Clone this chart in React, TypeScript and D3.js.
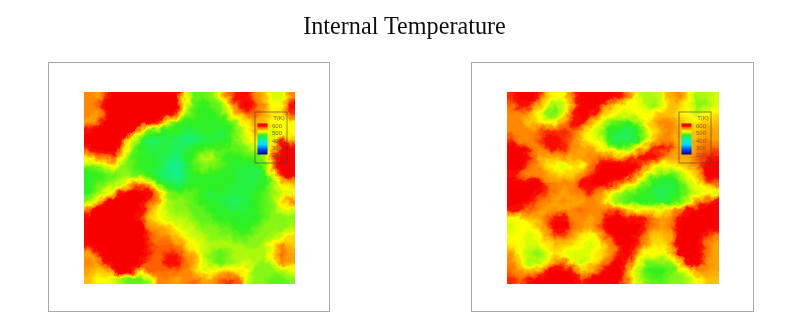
import { useEffect, useRef } from "react";
import * as d3 from "d3";

// temperature readings in tens of kelvin, one row per line, top row first
const leftTemps: number[][] = [
  [54,53,56,58,58,58,58,58,58,58,58,50,46,46,47,50,55,57,57,54,52,49,49,54],
  [54,55,58,58,58,58,58,58,58,58,58,50,46,45,46,47,51,56,58,56,53,50,50,57],
  [54,53,56,58,58,58,58,58,58,58,56,48,46,45,45,46,49,52,55,55,53,51,51,56],
  [53,55,58,58,58,58,58,57,56,49,46,45,45,45,45,45,46,48,51,53,52,50,50,50],
  [57,58,58,58,58,58,50,46,45,45,45,44,44,45,45,44,45,47,50,53,52,49,50,50],
  [58,58,58,58,56,49,45,43,43,44,43,42,42,43,44,44,45,47,49,51,50,49,57,52],
  [56,58,58,58,52,47,45,44,44,44,43,44,45,46,46,46,46,46,47,48,48,52,58,58],
  [52,54,55,56,49,46,45,45,44,43,42,44,46,48,48,46,45,45,46,46,47,55,58,58],
  [46,47,49,51,47,46,45,45,44,42,41,43,46,47,47,46,45,44,44,44,46,55,58,58],
  [45,45,46,46,47,47,46,45,43,42,41,43,45,45,45,45,45,44,44,43,45,50,57,58],
  [45,46,47,48,49,53,54,52,47,44,43,44,45,45,45,45,45,44,44,44,45,47,51,52],
  [45,47,49,52,57,58,58,57,52,47,46,46,46,45,44,45,44,44,44,45,46,47,49,49],
  [47,51,57,58,58,58,58,56,53,48,47,47,46,45,45,44,43,43,44,45,46,47,52,54],
  [54,58,58,58,58,58,57,53,50,48,47,47,46,46,45,45,44,44,44,45,46,47,49,49],
  [58,58,58,58,58,58,56,52,50,49,48,48,47,46,46,45,45,45,45,45,46,47,47,47],
  [58,58,58,58,58,58,58,54,53,52,50,49,48,47,47,46,46,45,45,46,47,47,47,48],
  [58,58,58,58,58,58,58,55,54,54,52,50,49,48,47,47,47,46,46,47,47,48,49,51],
  [57,58,58,58,58,58,58,56,55,55,54,52,50,49,48,48,48,48,47,47,48,51,54,52],
  [53,56,58,58,58,58,58,56,55,56,56,54,52,49,47,46,47,48,48,48,48,51,55,53],
  [54,53,57,58,58,58,57,55,55,57,57,55,53,50,47,46,47,48,49,48,47,50,54,53],
  [53,52,52,57,58,56,52,55,55,55,55,54,52,49,50,51,51,51,50,47,47,47,48,49],
  [52,50,50,49,47,46,46,48,54,54,53,54,55,53,53,55,56,55,49,47,47,46,46,47],
];

const rightTemps: number[][] = [
  [56,58,58,57,52,50,50,56,58,58,58,58,57,55,50,48,48,49,53,54,51,48,48,49],
  [55,57,57,53,50,47,49,54,58,58,57,53,51,50,50,49,47,49,52,52,50,47,47,49],
  [54,54,53,50,47,46,50,56,58,57,54,51,50,49,50,50,50,52,52,51,50,49,50,51],
  [54,54,52,51,50,51,54,57,57,53,50,47,46,45,46,50,52,54,54,52,51,51,52,52],
  [54,54,54,55,56,56,56,55,52,50,48,45,44,43,44,47,51,53,54,53,52,52,53,53],
  [56,54,54,55,57,57,56,55,51,50,49,45,43,43,44,47,52,54,54,52,51,53,54,53],
  [58,58,55,54,56,57,56,54,53,53,51,49,47,47,50,53,56,57,56,53,52,54,55,55],
  [58,58,57,53,52,53,53,53,53,54,55,55,54,54,56,57,57,54,53,53,53,55,56,57],
  [58,58,55,54,51,50,49,51,50,54,57,58,58,58,58,55,51,49,50,51,52,54,58,58],
  [57,55,54,54,53,52,51,52,54,56,58,58,58,58,55,50,47,46,46,47,50,52,58,58],
  [58,58,58,58,55,54,54,54,57,58,58,57,55,52,50,47,45,44,44,45,48,50,53,55],
  [58,58,58,57,56,54,53,54,55,56,54,51,49,47,46,45,44,43,44,45,47,49,50,49],
  [58,58,57,55,54,53,54,53,53,54,53,49,47,46,45,45,45,44,45,46,49,53,55,57],
  [57,56,55,54,53,54,53,54,55,54,54,55,54,52,51,51,50,50,51,54,57,58,58,58],
  [50,50,52,53,55,57,57,54,54,53,54,58,58,57,57,56,55,53,54,57,58,58,58,58],
  [49,50,50,51,54,58,58,55,53,53,55,58,58,58,58,57,54,53,54,58,58,58,58,58],
  [50,50,49,50,53,55,55,53,51,50,53,56,58,58,57,55,52,52,53,58,58,58,56,54],
  [51,50,49,49,51,52,52,51,50,49,50,53,56,58,57,54,51,51,53,58,58,58,55,53],
  [53,50,48,47,49,51,50,49,49,50,51,53,56,58,55,50,50,50,52,58,58,58,55,53],
  [54,51,48,48,50,54,54,50,48,50,52,55,58,57,51,47,47,47,47,52,57,58,54,53],
  [55,53,52,53,56,58,58,56,52,53,56,58,58,55,49,46,45,45,46,47,50,54,54,53],
  [56,55,57,58,58,58,58,58,56,58,58,58,58,54,50,47,46,46,47,47,48,50,52,52],
];

const legendTicks = [600, 500, 400, 300, 200];
const colorStops = [200, 260, 330, 410, 450, 475, 500, 530, 548, 565, 590, 600];
const colorValues = ["#000080", "#0040ff", "#00e0ff", "#10f090", "#30f020", "#a0f810", "#ffff00", "#ffa000", "#ff6a00", "#fa0a00", "#f40000", "#900000"];

// repeat the outer rows and columns so the edge of the plot stays filled once it is clipped
function padGrid(rows: number[][]) {
  const wide = rows.map((r) => [r[0], ...r, r[r.length - 1]]);
  return [wide[0], ...wide, wide[wide.length - 1]];
}

export default function App() {
  const svgRef = useRef<SVGSVGElement>(null);

  useEffect(() => {
    const svg = d3.select(svgRef.current);
    svg.selectAll("*").remove();

    const color = d3.scaleLinear<string>().domain(colorStops).range(colorValues).clamp(true);

    const defs = svg.append("defs");

    const rough = defs.append("filter").attr("id", "rough")
      .attr("filterUnits", "userSpaceOnUse")
      .attr("x", 0).attr("y", 0).attr("width", 800).attr("height", 325);
    rough.append("feTurbulence")
      .attr("type", "fractalNoise").attr("baseFrequency", 0.13)
      .attr("numOctaves", 3).attr("seed", 4).attr("result", "noise");
    rough.append("feDisplacementMap")
      .attr("in", "SourceGraphic").attr("in2", "noise")
      .attr("scale", 9).attr("xChannelSelector", "R").attr("yChannelSelector", "G");

    defs.append("filter").attr("id", "soft")
      .attr("filterUnits", "userSpaceOnUse")
      .attr("x", 0).attr("y", 0).attr("width", 800).attr("height", 325)
      .append("feGaussianBlur").attr("stdDeviation", 0.75);
    defs.append("filter").attr("id", "softText")
      .append("feGaussianBlur").attr("stdDeviation", 0.25);

    const grad = defs.append("linearGradient").attr("id", "bar")
      .attr("x1", 0).attr("x2", 0).attr("y1", 0).attr("y2", 1);
    [...colorStops].reverse().forEach((s) => {
      grad.append("stop")
        .attr("offset", (600 - s) / 400)
        .attr("stop-color", color(s));
    });

    svg.append("text")
      .attr("x", 404.5).attr("y", 34)
      .attr("text-anchor", "middle")
      .attr("font-family", "'Liberation Serif', serif")
      .attr("font-size", 24.2)
      .attr("fill", "#111")
      .attr("filter", "url(#softText)")
      .text("Internal Temperature");

    const panels = [
      { id: "l", temps: leftTemps, box: [48, 62, 281, 249], plot: [84, 92, 211, 192], legend: [255, 112] },
      { id: "r", temps: rightTemps, box: [471, 62, 282, 249], plot: [507, 92, 212, 192], legend: [679, 112] },
    ];

    panels.forEach(({ id, temps, box, plot, legend }) => {
      svg.append("rect")
        .attr("x", box[0] + 0.5).attr("y", box[1] + 0.5)
        .attr("width", box[2]).attr("height", box[3])
        .attr("fill", "#fff").attr("stroke", "#a8a8a8").attr("stroke-width", 1);

      const rows = temps.length;
      const cols = temps[0].length;
      const grid = padGrid(temps);
      const values = grid.flat().map((d) => d * 10);

      // grid index 0 is the padding, so the data cells still span the plot exactly
      const x = d3.scaleLinear().domain([1, cols + 1]).range([plot[0], plot[0] + plot[2]]);
      const y = d3.scaleLinear().domain([1, rows + 1]).range([plot[1], plot[1] + plot[3]]);
      const path = d3.geoPath(d3.geoTransform({
        point(px, py) {
          this.stream.point(x(px), y(py));
        },
      }));

      const contours = d3.contours()
        .size([cols + 2, rows + 2])
        .thresholds(d3.range(400, 584, 3))(values);

      defs.append("clipPath").attr("id", `clip-${id}`)
        .append("rect")
        .attr("x", plot[0]).attr("y", plot[1])
        .attr("width", plot[2]).attr("height", plot[3]);

      const g = svg.append("g").attr("filter", "url(#soft)")
        .append("g").attr("clip-path", `url(#clip-${id})`)
        .append("g").attr("filter", "url(#rough)");
      g.append("rect")
        .attr("x", x(0)).attr("y", y(0))
        .attr("width", x(cols + 2) - x(0)).attr("height", y(rows + 2) - y(0))
        .attr("fill", color(400));
      g.selectAll("path.band")
        .data(contours)
        .enter()
        .append("path")
        .attr("class", "band")
        .attr("d", (d) => path(d))
        .attr("fill", (d) => color(d.value));

      // legend overlay
      const lg = svg.append("g")
        .attr("transform", `translate(${legend[0]},${legend[1]})`)
        .attr("filter", "url(#softText)");
      lg.append("rect")
        .attr("width", 32).attr("height", 51)
        .attr("fill", "none").attr("stroke", "#444").attr("stroke-width", 0.6);
      lg.append("rect")
        .attr("x", 2.5).attr("y", 11.5)
        .attr("width", 10).attr("height", 31)
        .attr("fill", "url(#bar)");

      const scale = d3.scaleLinear().domain([600, 200]).range([13.5, 43]);
      const axis = lg.append("g")
        .attr("transform", "translate(14,0)")
        .call(d3.axisRight(scale).tickValues(legendTicks).tickSize(0).tickPadding(3));
      axis.select(".domain").remove();
      axis.selectAll("text")
        .attr("font-family", "'Liberation Sans', sans-serif")
        .attr("font-size", 6)
        .attr("fill", "#8a5a20");
      lg.append("text")
        .attr("x", 24).attr("y", 8)
        .attr("text-anchor", "middle")
        .attr("font-family", "'Liberation Sans', sans-serif")
        .attr("font-size", 6)
        .attr("fill", "#8a5a20")
        .text("T(K)");
    });
  }, []);

  return (
    <svg
      ref={svgRef}
      width={800}
      height={325}
      style={{ position: "absolute", left: 0, top: 0, background: "#fff" }}
    />
  );
}
